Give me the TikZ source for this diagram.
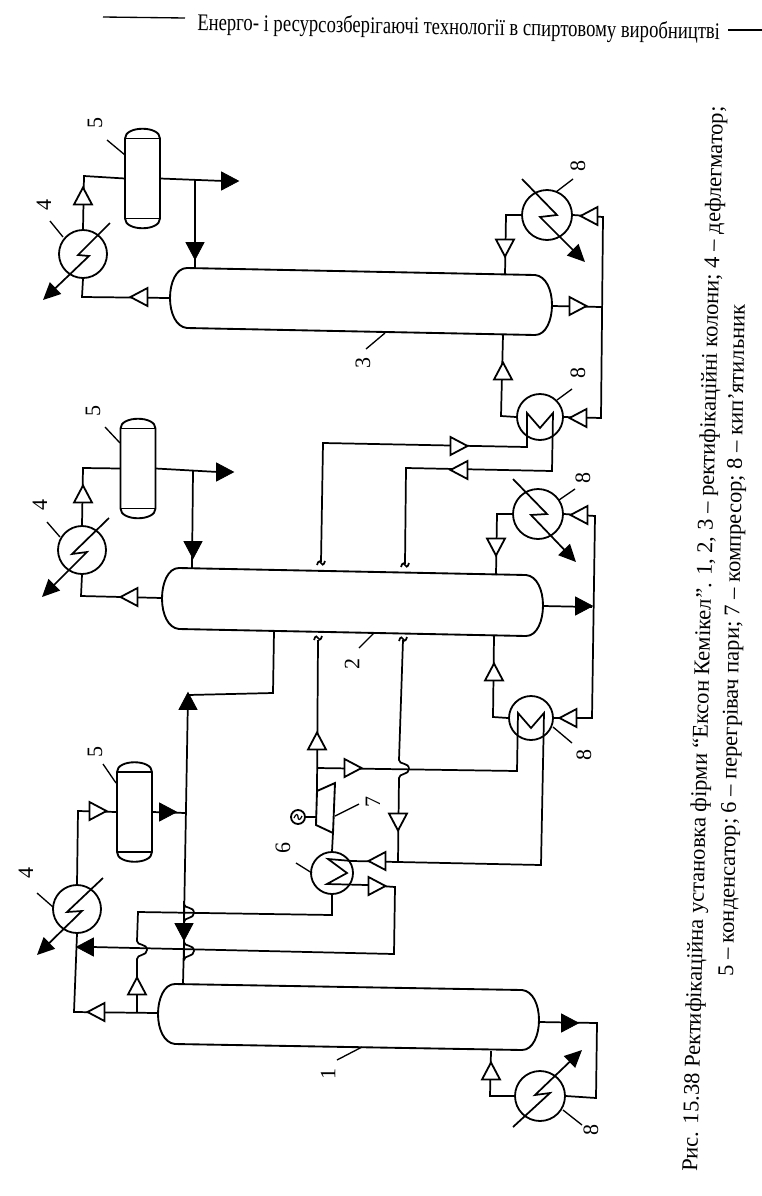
\documentclass[tikz,border=0pt]{standalone}
\usepackage{fontspec}
\usepackage{graphicx}
\setmainfont{Liberation Serif}
\usetikzlibrary{arrows.meta}
\tikzset{
  pipe/.style={line width=1.3pt,line join=miter},
  hx/.style={circle,draw,line width=1.35pt,inner sep=0pt,fill=white},
  zigline/.style={line width=1.3pt,-{Triangle[length=13pt,width=12pt]}},
  vessel/.style={line width=1.4pt},
  leader/.style={line width=1pt},
  numlabel/.style={rotate=90,font=\fontsize{16.5}{16.5}\selectfont,inner sep=0pt},
  opentri/.style={line width=1.35pt,fill=white,line join=miter},
  solidtri/.style={line width=0.6pt,fill=black},
  drumbox/.style={inner sep=0pt,minimum width=26.25pt,minimum height=75pt},
}
% centre x, centre y, direction, style
\newcommand\flowtri[5]{\coordinate (#1) at (#2,#3);
  \draw[#5,shift={(#1)},rotate=#4] (-8.5,-9) -- (8.5,0) -- (-8.5,9) -- cycle;}
\newcommand\drum[3]{\node[drumbox] (#1) at (#2,#3) {};
  \draw[vessel] (#2-17.5,#3-40) .. controls (#2-17.5,#3-53) and (#2+17.5,#3-53) .. (#2+17.5,#3-40)
     -- (#2+17.5,#3+40) .. controls (#2+17.5,#3+53) and (#2-17.5,#3+53) .. (#2-17.5,#3+40) -- cycle;
  \draw[vessel] (#2-17.5,#3-40) -- (#2+17.5,#3-40) (#2-17.5,#3+40) -- (#2+17.5,#3+40);}
% xL, y top at left, xR, y top at right, height
\newcommand\tower[5]{\draw[vessel] (#1+17,#2) -- (#3-17,#4)
   .. controls (#3-6,#4+1) and (#3,#4+15) .. (#3,#4+#5/2)
   .. controls (#3,#4+#5-15) and (#3-6,#4+#5) .. (#3-17,#4+#5)
   -- (#1+17,#2+#5)
   .. controls (#1+6,#2+#5-1) and (#1,#2+#5-15) .. (#1,#2+#5/2)
   .. controls (#1,#2+15) and (#1+6,#2) .. (#1+17,#2) -- cycle;}
% name, label x,y, text, leader ends
\newcommand\lbl[8]{\node[numlabel] (#1) at (#2,#3) {#4};
  \coordinate (#1a) at (#5,#6); \coordinate (#1b) at (#7,#8);
  \draw[leader] (#1a) -- (#1b);}
% vertical run hopping over a horizontal line
\newcommand\hopv[2]{-- (#1,#2-9) .. controls (#1,#2-4) and (#1+10,#2-7) .. (#1+10,#2) .. controls (#1+10,#2+6) and (#1,#2+4) .. (#1,#2+9)}
\newcommand\tickmark[2]{\draw[pipe] (#1-4,#2+2) .. controls (#1-3,#2-3) and (#1,#2-2) .. (#1,#2) .. controls (#1,#2+2) and (#1+3,#2+3) .. (#1+4,#2-2);}
\begin{document}
\begin{tikzpicture}[x=0.75pt,y=-0.75pt]
\useasboundingbox (0,0) rectangle (762,1196);

% ---------- header
\node[rotate=-1.0,anchor=base west,inner sep=0pt] (head) at (197,30)
  {\scalebox{1}[1.28]{\resizebox{392pt}{!}{Енерго- і ресурсозберігаючі технології в спиртовому виробництві}}};
\draw[line width=1pt] (103,17) -- (185,18);
\draw[line width=1pt] (728,30) -- (762,30);

% ---------- columns
\tower{170}{268}{552}{275}{60}
\tower{162}{568}{543}{575}{61}
\tower{158}{984}{539}{990}{60}

% ---------- ports on the columns
\coordinate (c3L) at (170,298);
\coordinate (c3R) at (552,306);
\coordinate (c3Ta) at (195,268);
\coordinate (c3Tb) at (505,275);
\coordinate (c3Bb) at (503,335);
\coordinate (c2L) at (162,598);
\coordinate (c2R) at (543,606);
\coordinate (c2Ta) at (192,568);
\coordinate (c2Tb) at (496,575);
\coordinate (c2Bb) at (494,636);
\coordinate (c2Ba) at (274,631);
\coordinate (c1L) at (158,1013);
\coordinate (c1R) at (539,1022);
\coordinate (c1Ta) at (183,984);
\coordinate (c1Bb) at (491,1051);

% ---------- condensers
\drum{d5a}{142.5}{178.5}
\drum{d5b}{138}{468.5}
\drum{d5c}{134.5}{812}

% ---------- exchangers
\node[hx,minimum size=36pt] (e4a) at (83,254) {};
\node[hx,minimum size=36pt] (e4b) at (82,550) {};
\node[hx,minimum size=36pt] (e4c) at (77,909) {};
\node[hx,minimum size=37.5pt] (r8a) at (547,215) {};
\node[hx,minimum size=34.5pt] (r8b) at (540,417) {};
\node[hx,minimum size=37.5pt] (r8c) at (538,514) {};
\node[hx,minimum size=33pt] (r8d) at (531,718) {};
\node[hx,minimum size=37.5pt] (r8e) at (540,1096) {};
\node[hx,minimum size=31.5pt] (h6) at (332,873) {};
\node[circle,draw,line width=1.35pt,inner sep=0pt,minimum size=10.5pt] (mot) at (298,817) {};
\draw[line width=0.9pt] (294,818) .. controls (296,813) and (298,814) .. (298,817) .. controls (298,820) and (300,821) .. (302,816);

% ---------- compressor
\coordinate (cp1) at (317,791); \coordinate (cp2) at (335,783);
\coordinate (cp3) at (333,833); \coordinate (cp4) at (316,825);
\coordinate (cpL) at (316,817);
\draw[vessel] (cp1) -- (cp2) -- (cp3) -- (cp4) -- cycle;
\draw[pipe] (mot.east) -- (cpL);
\draw[pipe] (cp3) -- (h6.north);

% ---------- zigzag coils with arrows
\draw[zigline] (110,223) -- (78,255) -- (89,256) -- (43,300);
\draw[zigline] (109,518) -- (72,554) -- (87,552) -- (42,597);
\draw[zigline] (103,878) -- (67,912) -- (82,911) -- (37,955);
\draw[zigline] (522,179) -- (557,215) -- (540,217) -- (585,262);
\draw[zigline] (513,479) -- (547,514) -- (531,515) -- (576,562);
\draw[zigline] (513,1127) -- (550,1093) -- (535,1095) -- (582,1050);

% ---------- pipes, column 3
\draw[pipe] (c3L) -- (82,297) -- (e4a.south);
\draw[pipe] (e4a.north) -- (84,176) -- (d5a.west);
\draw[pipe] (d5a.east) -- (224,181);
\draw[pipe] (195,180) -- (c3Ta);
\draw[pipe] (c3Tb) -- (506,215) -- (r8a.west);
\draw[pipe] (r8a.east) -- (603,217) -- (601,418) -- (r8b.east);
\draw[pipe] (c3R) -- (602,307);
\draw[pipe] (c3Bb) -- (501,416) -- (r8b.west);
% coil of the lower reboiler of column 3, feeding column 2
\coordinate (tk1) at (321,562);
\coordinate (tk2) at (405,564);
\draw[pipe] (tk1) -- (323,443) -- (527,447) -- (527,413) -- (540,428) -- (553,413) -- (552,471) -- (406,468) -- (tk2);
\tickmark{321}{563}
\tickmark{405}{565}

% ---------- pipes, column 2
\draw[pipe] (c2L) -- (81,596) -- (e4b.south);
\draw[pipe] (e4b.north) -- (83,468) -- (d5b.west);
\draw[pipe] (d5b.east) -- (218,472);
\draw[pipe] (193,471) -- (c2Ta);
\draw[pipe] (c2Tb) -- (497,514) -- (r8c.west);
\draw[pipe] (r8c.east) -- (595,516) -- (592,718) -- (r8d.east);
\draw[pipe] (c2R) -- (592,607);
\draw[pipe] (c2Bb) -- (493,717) -- (r8d.west);

% ---------- vapour lines round the compressor and heater
\coordinate (tk3) at (318,640);
\coordinate (tk4) at (403,640);
\draw[pipe] (tk3) -- (cp1);
\draw[pipe] (317,768) -- (517,771) -- (518,713) -- (531,728) -- (544,713) -- (541,865) -- (398,862);
\tickmark{318}{638}
\tickmark{403}{639}
\draw[pipe] (tk4) -- (399,760) .. controls (399,765) and (409,762) .. (409,769) .. controls (409,775) and (399,773) .. (399,778) -- (398,862)
  -- (352,861) -- (328,859) -- (347,873) -- (327,884) -- (367,885) -- (395,887) -- (394,954) -- (92,947);
\draw[pipe] (h6.south) -- (332,915) -- (138,912) \hopv{137}{950} -- (137,1012);

% ---------- pipes, column 1
\draw[pipe] (c1L) -- (74,1012) -- (e4c.south);
\draw[pipe] (e4c.north) -- (78,811) -- (d5c.west);
\draw[pipe] (d5c.east) -- (186,813);
\draw[pipe] (c1Ta) \hopv{184}{951} \hopv{184}{913} -- (188,695) -- (273,693) -- (c2Ba);
\draw[pipe] (c1R) -- (597,1023) -- (596,1098) -- (r8e.east);
\draw[pipe] (c1Bb) -- (490,1096) -- (r8e.west);

% ---------- flow triangles
\flowtri{v01}{139}{297}{180}{opentri}
\flowtri{v02}{83}{196}{90}{opentri}
\flowtri{v03}{230}{181}{0}{solidtri}
\flowtri{v04}{195}{251}{270}{solidtri}
\flowtri{v05}{505}{248}{270}{opentri}
\flowtri{v06}{589}{216}{180}{opentri}
\flowtri{v07}{578}{306}{0}{opentri}
\flowtri{v08}{578}{418}{180}{opentri}
\flowtri{v09}{503}{371}{90}{opentri}
\flowtri{v10}{129}{597}{180}{opentri}
\flowtri{v11}{83}{494}{90}{opentri}
\flowtri{v12}{225}{472}{0}{solidtri}
\flowtri{v13}{193}{550}{270}{solidtri}
\flowtri{v14}{459}{446}{0}{opentri}
\flowtri{v15}{459}{470}{180}{opentri}
\flowtri{v16}{496}{547}{270}{opentri}
\flowtri{v17}{579}{515}{180}{opentri}
\flowtri{v18}{584}{606}{0}{solidtri}
\flowtri{v19}{568}{718}{180}{opentri}
\flowtri{v20}{494}{672}{90}{opentri}
\flowtri{v21}{353}{768}{0}{opentri}
\flowtri{v22}{317}{741}{90}{opentri}
\flowtri{v23}{398}{822}{270}{opentri}
\flowtri{v24}{377}{861}{180}{opentri}
\flowtri{v25}{377}{886}{0}{opentri}
\flowtri{v26}{98}{811}{0}{opentri}
\flowtri{v27}{168}{812}{0}{solidtri}
\flowtri{v28}{188}{701}{90}{solidtri}
\flowtri{v29}{85}{947}{180}{solidtri}
\flowtri{v30}{184}{932}{270}{solidtri}
\flowtri{v31}{137}{986}{90}{opentri}
\flowtri{v32}{96}{1012}{180}{opentri}
\flowtri{v33}{570}{1023}{0}{solidtri}
\flowtri{v34}{491}{1071}{90}{opentri}

% ---------- number labels and leaders
\lbl{n5a}{95}{123}{5}{107}{140}{125}{155}
\lbl{n4a}{44}{205}{4}{50}{221}{63}{237}
\lbl{n8a}{578}{166}{8}{556}{192}{573}{179}
\lbl{n8b}{578}{373}{8}{557}{400}{572}{389}
\lbl{n3}{363}{363}{3}{385}{333}{366}{349}
\lbl{n5b}{93}{411}{5}{105}{427}{120}{443}
\lbl{n4b}{40}{505}{4}{47}{522}{60}{537}
\lbl{n8c}{583}{478}{8}{559}{500}{575}{489}
\lbl{n2}{352}{664}{2}{374}{633}{359}{648}
\lbl{n8d}{584}{755}{8}{553}{727}{572}{743}
\lbl{n7}{373}{802}{7}{335}{816}{359}{804}
\lbl{n6}{283}{848}{6}{296}{863}{312}{873}
\lbl{n5c}{95}{752}{5}{103}{764}{116}{783}
\lbl{n4c}{26}{873}{4}{37}{893}{53}{907}
\lbl{n1}{328}{1074}{1}{362}{1047}{337}{1060}
\lbl{n8e}{591}{1130}{8}{563}{1110}{582}{1125}

% ---------- caption
\node[rotate=88.6,anchor=base west,inner sep=0pt] (cap1) at (697,1172)
  {\resizebox{799pt}{!}{Рис. 15.38 Ректифікаційна установка фірми “Ексон Кемікел”. 1, 2, 3 – ректифікаційні колони; 4 – дефлегматор;}};
\node[rotate=89,anchor=base west,inner sep=0pt] (cap2) at (733,977)
  {\resizebox{504pt}{!}{5 – конденсатор; 6 – перегрівач пари; 7 – компресор; 8 – кип'ятильник}};
\end{tikzpicture}
\end{document}
